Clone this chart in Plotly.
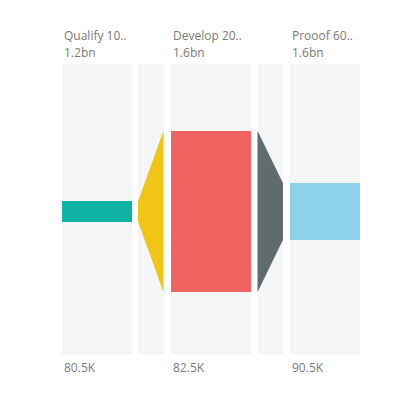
import plotly.graph_objects as go

# ---- data ----
categories = ["Qualify 10..", "Develop 20..", "Prooof 60.."]
top_values = ["1.2bn", "1.6bn", "1.6bn"]
bottom_values = ["80.5K", "82.5K", "90.5K"]
bar_share = [0.069, 0.557, 0.195]          # share of the column height
bar_colors = ["#0FB3A3", "#F06361", "#8DD2E9"]
connector_colors = ["#F0C516", "#5F6B6D"]

# ---- layout geometry (pixels on x axis) ----
col_x0 = [62, 170.5, 290]
col_w = [70, 80.5, 70]
conn_x0 = [138, 257.5]
conn_w = [25.5, 25.5]
bg_base, bg_height = -0.492, 1.0
bg_color = "#F4F5F7"
text_color = "#7A7A7A"
font_family = "Open Sans, Noto Sans, sans-serif"

fig = go.Figure()

# background columns
fig.add_trace(go.Bar(
    x=[x0 + w / 2 for x0, w in zip(col_x0, col_w)] + [x0 + w / 2 for x0, w in zip(conn_x0, conn_w)],
    y=[bg_height] * 5,
    base=[bg_base] * 5,
    width=col_w + conn_w,
    marker=dict(color=bg_color, line=dict(width=0)),
    hoverinfo="skip", showlegend=False,
))

# main bars
fig.add_trace(go.Bar(
    x=[x0 + w / 2 for x0, w in zip(col_x0, col_w)],
    y=bar_share,
    base=[-s / 2 for s in bar_share],
    width=col_w,
    marker=dict(color=bar_colors, line=dict(width=0)),
    hovertext=categories, hoverinfo="text", showlegend=False,
))

# connectors
for i in range(len(bar_share) - 1):
    a, b = bar_share[i], bar_share[i + 1]
    x0, x1 = conn_x0[i], conn_x0[i] + conn_w[i]
    fig.add_trace(go.Scatter(
        x=[x0, x1, x1, x0, x0],
        y=[a / 2, b / 2, -b / 2, -a / 2, a / 2],
        mode="lines", fill="toself",
        fillcolor=connector_colors[i],
        line=dict(width=0, color=connector_colors[i]),
        hoverinfo="skip", showlegend=False,
    ))

# labels
H = 400
for i in range(len(categories)):
    for txt, py in ((categories[i], 35.5), (top_values[i], 52.2), (bottom_values[i], 367.5)):
        fig.add_annotation(
            x=col_x0[i], xref="x", xanchor="left",
            y=1 - py / H, yref="paper", yanchor="middle",
            text=txt, showarrow=False,
            font=dict(family=font_family, size=12, color=text_color),
        )

fig.update_layout(
    width=420, height=400,
    margin=dict(l=0, r=0, t=0, b=0),
    paper_bgcolor="white", plot_bgcolor="white",
    barmode="overlay", bargap=0,
    xaxis=dict(range=[0, 420], visible=False, fixedrange=True),
    yaxis=dict(range=[-0.65, 0.7293], visible=False, fixedrange=True),
)

fig.write_html("out.html")
